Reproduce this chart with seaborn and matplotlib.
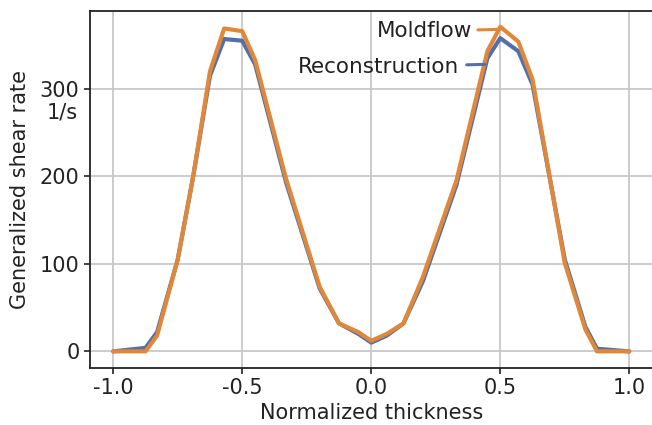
import matplotlib
matplotlib.use("Agg")
import matplotlib.pyplot as plt
import seaborn as sns
import pandas as pd

thickness = [-1.0, -0.875, -0.83, -0.75, -0.69, -0.625, -0.57, -0.5, -0.45, -0.33,
             -0.2, -0.125, -0.05, 0.0, 0.06, 0.125, 0.2, 0.33, 0.45, 0.5, 0.57,
             0.625, 0.75, 0.83, 0.875, 1.0]
reconstruction = [0, 4, 22, 105, 200, 315, 357, 355, 328, 193,
                  72, 32, 20, 10, 18, 32, 80, 190, 335, 358, 343,
                  305, 105, 28, 3, 0]
moldflow = [0, 0, 18, 105, 200, 320, 369, 366, 333, 197,
            74, 32, 22, 12, 20, 32, 85, 195, 343, 371, 354,
            311, 101, 25, 0, 0]
series_names = ["Reconstruction", "Moldflow"]
xticks = [-1.0, -0.5, 0.0, 0.5, 1.0]
yticks = [0, 100, 200, 300]

df = pd.DataFrame({
    "x": thickness * 2,
    "y": reconstruction + moldflow,
    "series": [series_names[0]] * len(thickness) + [series_names[1]] * len(thickness),
})

sns.set_style("ticks")
plt.rcParams["font.family"] = ["DejaVu Sans"]
plt.rcParams["axes.unicode_minus"] = False

blue = "#5470a8"
orange = "#e0883a"
fs = 15

fig = plt.figure(figsize=(6.52, 4.25), dpi=100)
ax = fig.add_axes([90 / 652, 1 - 368 / 425, 562.5 / 652, (368 - 11) / 425])

sns.lineplot(data=df, x="x", y="y", hue="series", palette=[blue, orange],
             sort=False, estimator=None, legend=False, lw=3, ax=ax, zorder=3)

ax.set_xlim(-1.09, 1.09)
ax.set_ylim(-19, 389)
ax.set_xticks(xticks)
ax.set_yticks(yticks)
ax.set_xticklabels([f"{t:.1f}" for t in xticks])
ax.grid(True, color="#c8c8c8", lw=1.3, zorder=0)
for s in ax.spines.values():
    s.set_color("#222222")
    s.set_linewidth(1.3)
ax.spines["right"].set_visible(False)
ax.tick_params(labelsize=fs, colors="#222222", width=1.2, length=4)
ax.set_xlabel("Normalized thickness", fontsize=fs, color="#222222", labelpad=3)
ax.set_ylabel("Generalized shear rate", fontsize=fs, color="#222222", labelpad=7)

ax.text(-0.022, 273, "1/s", transform=ax.get_yaxis_transform(), ha="right",
        va="center", fontsize=fs, color="#222222")

ax.annotate("Moldflow", xy=(0.5, 368), xytext=(0.39, 366), ha="right", va="center",
            fontsize=15.5, color="#222222",
            arrowprops=dict(arrowstyle="-", color=orange, lw=2.2, shrinkA=2, shrinkB=0))
ax.annotate("Reconstruction", xy=(0.44, 328), xytext=(0.341, 325), ha="right", va="center",
            fontsize=15.5, color="#222222",
            arrowprops=dict(arrowstyle="-", color=blue, lw=2.2, shrinkA=3, shrinkB=0))

fig.savefig("out.png", dpi=100)
